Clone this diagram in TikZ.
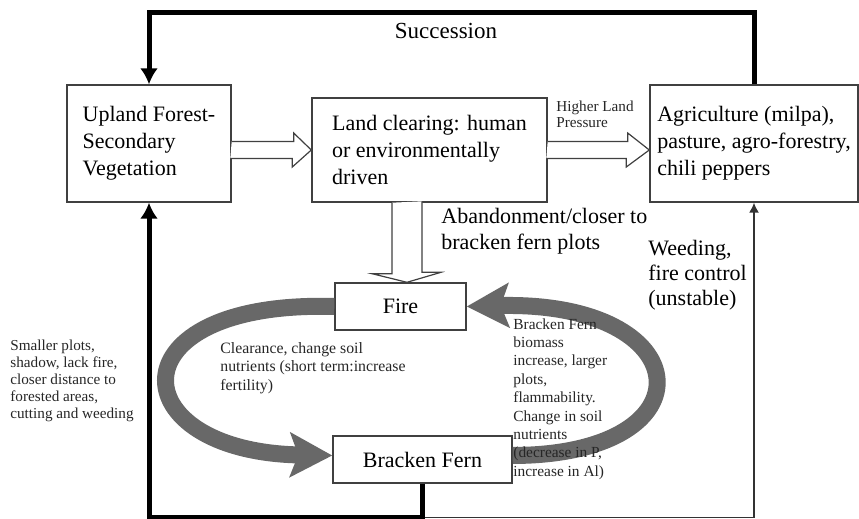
\documentclass[tikz,border=0pt]{standalone}
\usepackage{fontspec}
\setmainfont{Liberation Serif}
\usetikzlibrary{arrows.meta,calc}
\definecolor{arcgray}{RGB}{104,104,104}

\begin{document}
\begin{tikzpicture}[x=0.5pt,y=-0.5pt,
		stage/.style={draw=black!75,line width=0.7pt,align=left,inner sep=0pt,font=\fontsize{11}{13.5}\selectfont},
		bignote/.style={align=left,inner sep=0pt,anchor=north west,font=\fontsize{11}{13}\selectfont},
		smallnote/.style={align=left,inner sep=0pt,anchor=north west,text=black!85,font=\fontsize{7.7}{9.2}\selectfont},
		succ/.style={line width=2.5pt,-{Latex[width=9pt,length=8pt]}},
		weed/.style={draw=black!80,line width=0.75pt,-{Latex[width=5pt,length=5pt]}},
		hollow/.style={draw=black!75,line width=0.6pt,fill=white},
		greyarc/.style={draw=arcgray,line width=8.5pt,-{Stealth[width=22pt,length=21pt,inset=4pt]}}]
		\useasboundingbox (0,0) rectangle (859,519);
		% boxes
		\node[stage,minimum width=82pt,minimum height=58.5pt] (upland) at (149,143.5) {Upland Forest-\\Secondary\\Vegetation};
		\node[stage,minimum width=117.5pt,minimum height=52pt] (clear) at (429.5,150) {Land clearing: human\\or environmentally\\driven};
		\node[stage,minimum width=104pt,minimum height=58.5pt] (agri) at (754,143.5) {Agriculture (milpa),\\pasture, agro-forestry,\\chili peppers};
		\node[stage,minimum width=65.5pt,minimum height=23.5pt] (fire) at (400.5,306.5) {Fire};
		\node[stage,minimum width=89.5pt,minimum height=23.5pt] (bracken) at (422.5,459.5) {Bracken Fern};
		% grey cycle
		\draw[greyarc] (fire.west) .. controls (110,300) and (120,452) .. ($(bracken.west)+(0,-4)$);
		\draw[greyarc] ($(bracken.east)+(0,-4)$) .. controls (715,455) and (700,300) .. (fire.east);
		% hollow arrows
		\draw[hollow] ($(upland.east |- clear.west)+(0,-8.5)$) -- ++(62,0) -- ++(0,-8.5) -- (clear.west)
			-- ++(-19,17) -- ++(0,-8.5) -- ++(-62,0);
		\draw[hollow] ($(clear.east)+(0,-8.5)$) -- ++(80,0) -- ++(0,-8.5) -- (agri.west |- clear.east)
			-- ++(-23,17) -- ++(0,-8.5) -- ++(-80,0);
		\draw[hollow] ($(clear.south)+(-37.5,0)$) -- ++(0,71) -- ++(-20,0) -- ($(fire.north)+(6.5,0)$)
			-- ++(34,-10) -- ++(-19,0) -- ++(0,-71);
		% feedback lines
		\coordinate (low) at ($(bracken.south)+(0,34)$);
		\draw[weed] (low) -| (agri.south);
		\draw[succ] (bracken.south) -- (low) -| (upland.south);
		\draw[succ] (agri.north) -- ++(0,-72) -| (upland.north);
		% labels
		\node[font=\fontsize{11.5}{13}\selectfont] (succlab) at (446,31) {Succession};
		\node[smallnote,font=\fontsize{7.6}{8}\selectfont] (press) at (556,101) {Higher Land\\Pressure};
		\node[bignote] (aband) at (441,208) {Abandonment/closer to\\bracken fern plots};
		\node[bignote,font=\fontsize{11}{12.5}\selectfont] (weedlab) at (648,240) {Weeding,\\fire control\\(unstable)};
		\node[smallnote,font=\fontsize{7.6}{8.4}\selectfont] (small) at (10,340) {Smaller plots,\\shadow, lack fire,\\closer distance to\\forested areas,\\cutting and weeding};
		\node[smallnote,font=\fontsize{7.9}{9.2}\selectfont] (clearance) at (220,342) {Clearance, change soil\\nutrients (short term:increase\\fertility)};
		\node[smallnote] (biomass) at (513,318) {Bracken Fern\\biomass\\increase, larger\\plots,\\flammability.\\Change in soil\\nutrients\\(decrease in P,\\increase in Al)};
\end{tikzpicture}
\end{document}
